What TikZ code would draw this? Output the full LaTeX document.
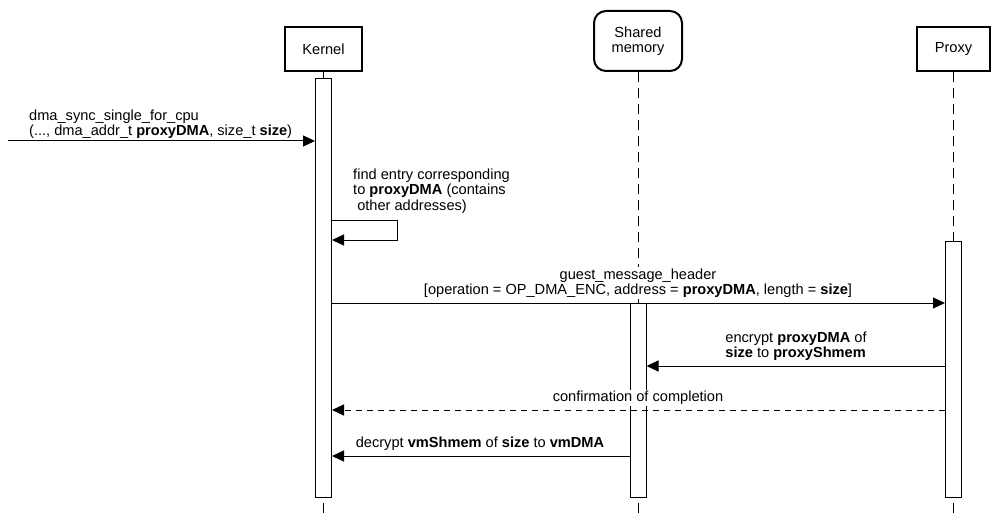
\documentclass[tikz,border=0pt]{standalone}
\usepackage{fontspec}
\setmainfont{Liberation Sans}
\usetikzlibrary{arrows.meta,calc}
\newcommand\dgfont{\fontsize{14.6}{15.5}\selectfont}
\begin{document}
\begin{tikzpicture}[x=1pt,y=-1pt,
  head/.style={draw, line width=2pt, minimum height=44pt, align=center, font=\dgfont, inner sep=0pt},
  act/.style={draw, line width=1pt, fill=white, minimum width=16pt, inner sep=0pt},
  life/.style={line width=1pt, dash pattern=on 10pt off 6pt},
  msg/.style={line width=1pt, -{Triangle[length=12pt,width=11pt]}},
  retmsg/.style={msg, dash pattern=on 6pt off 5pt},
  lbl/.style={inner sep=1pt, fill=white, font=\dgfont, align=center}]
\useasboundingbox (0,0) rectangle (998,513);
% heads
\node[head, minimum width=77pt] (kh) at (323.5,49) {Kernel};
\node[head, minimum width=88pt, minimum height=60pt, rounded corners=12pt] (sh) at (638,41) {Shared\\memory};
\node[head, minimum width=73pt] (ph) at (953.5,49) {Proxy};
% end points of lifelines
\coordinate (kend) at (323.5,513);
\coordinate (send) at (638,513);
\coordinate (pend) at (953.5,513);
% activations
\node[act, minimum height=418pt] (kact) at (323.5,288) {};
\node[act, minimum height=194pt] (sact) at (638,400) {};
\node[act, minimum height=256pt] (pact) at (953.5,369) {};
% lifelines
\draw[life] (kh.south) -- (kact.north);
\draw[life] (kend) -- (kact.south);
\draw[life] (sh.south) -- (sact.north);
\draw[life] (send) -- (sact.south);
\draw[life] (ph.south) -- (pact.north);
\draw[life] (pend) -- (pact.south);
% message 1: found message
\coordinate (src) at (8,141);
\draw[msg] (src) -- (src -| kact.west);
\node[lbl, align=left, anchor=west] (l1) at (28,124) {dma\_sync\_single\_for\_cpu\\(..., dma\_addr\_t \textbf{proxyDMA}, size\_t \textbf{size})};
% message 2: self message
\coordinate (s1) at (397,220);
\coordinate (s2) at (397,240);
\draw[msg] (kact.east |- s1) -- (s1) -- (s2) -- (kact.east |- s2);
\node[lbl, align=left, anchor=west] (l2) at (352,191) {find entry corresponding\\to \textbf{proxyDMA} (contains\\\hspace{0.28em}other addresses)};
% message 3
\coordinate (g) at (0,303);
\draw[msg] (kact.east |- g) -- (pact.west |- g);
\node[lbl] (l3) at (638,283) {guest\_message\_header\\{}[operation = OP\_DMA\_ENC, address = \textbf{proxyDMA}, length = \textbf{size}]};
% message 4
\coordinate (e) at (0,366);
\draw[msg] (pact.west |- e) -- (sact.east |- e);
\node[lbl, align=left] (l4) at (796,346) {encrypt \textbf{proxyDMA} of\\\textbf{size} to \textbf{proxyShmem}};
% message 5
\coordinate (c) at (0,410);
\draw[retmsg] (pact.west |- c) -- (kact.east |- c);
\node[lbl] (l5) at (638,398) {confirmation of completion};
% message 6
\coordinate (d) at (0,456);
\draw[msg] (sact.west |- d) -- (kact.east |- d);
\node[lbl] (l6) at (480,444) {decrypt \textbf{vmShmem} of \textbf{size} to \textbf{vmDMA}};
\end{tikzpicture}
\end{document}
